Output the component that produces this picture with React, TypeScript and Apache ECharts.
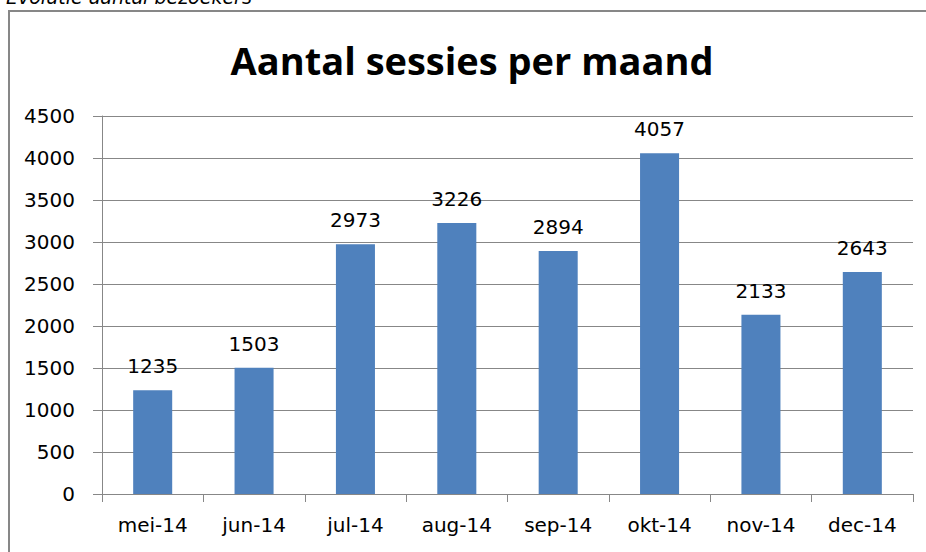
import React, { useEffect, useRef } from "react";
import * as echarts from "echarts";

const categories = ["mei-14", "jun-14", "jul-14", "aug-14", "sep-14", "okt-14", "nov-14", "dec-14"];
const sessions = [1235, 1503, 2973, 3226, 2894, 4057, 2133, 2643];
const chartTitle = "Aantal sessies per maand";
const caption = "Evolutie aantal bezoekers";

export default function App() {
  const ref = useRef<HTMLDivElement>(null);
  useEffect(() => {
    if (!ref.current) return;
    const chart = echarts.init(ref.current, null, { renderer: "svg" });
    chart.setOption({
      animation: false,
      backgroundColor: "#ffffff",
      title: {
        text: chartTitle,
        left: 467,
        textAlign: "center",
        top: 36,
        textStyle: { fontFamily: "Open Sans", fontWeight: "bold", fontSize: 38, color: "#000" },
      },
      graphic: [
        {
          type: "rect",
          shape: { x: 9, y: 11, width: 1000, height: 700 },
          style: { fill: "none", stroke: "#878787", lineWidth: 2 },
          silent: true,
        },
        {
          type: "text",
          x: 6,
          y: -13,
          style: {
            text: caption,
            font: "italic 19px 'DejaVu Sans'",
            fill: "#000",
          },
        },
      ],
      grid: { left: 102, right: 13, top: 116, bottom: 58, containLabel: false },
      xAxis: {
        type: "category",
        data: categories,
        axisLine: { lineStyle: { color: "#878787", width: 1 } },
        axisTick: { show: true, length: 8, alignWithLabel: false, lineStyle: { color: "#878787" } },
        axisLabel: { fontFamily: "DejaVu Sans", fontSize: 20, color: "#000", margin: 21 },
      },
      yAxis: {
        type: "value",
        min: 0,
        max: 4500,
        interval: 500,
        axisLine: { show: true, lineStyle: { color: "#878787", width: 1 } },
        axisTick: { show: true, length: 9, lineStyle: { color: "#878787" } },
        axisLabel: {
          fontFamily: "DejaVu Sans",
          fontSize: 20,
          color: "#000",
          margin: 27,
          formatter: (v: number) => String(v),
        },
        splitLine: { show: true, lineStyle: { color: "#878787", width: 1 } },
      },
      series: [
        {
          type: "bar",
          data: sessions,
          barWidth: "38.5%",
          itemStyle: { color: "#4F81BD" },
          label: {
            show: true,
            position: "top",
            distance: 14,
            fontFamily: "DejaVu Sans",
            fontSize: 20,
            color: "#000",
          },
        },
      ],
    });
    return () => chart.dispose();
  }, []);
  return (
    <div
      ref={ref}
      style={{ position: "absolute", left: 0, top: 0, width: 926, height: 552 }}
    />
  );
}
